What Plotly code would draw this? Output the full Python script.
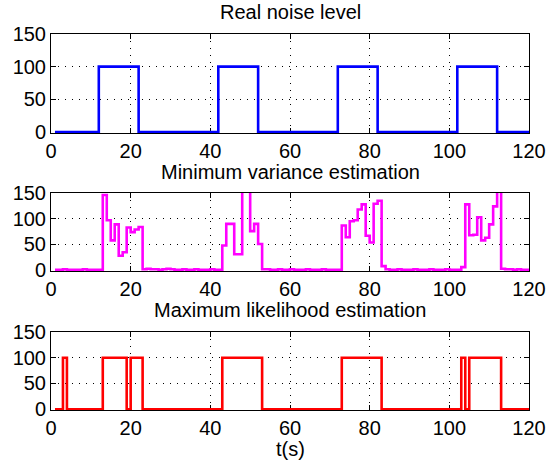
import plotly.graph_objects as go

# ---- data ----
t = list(range(1, 121))

# real noise level: change points (step, held until next point)
real_t = [1, 12, 22, 42, 52, 72, 82, 102, 112, 120]
real_v = [0, 100, 0, 100, 0, 100, 0, 100, 0, 0]

# minimum variance estimation, one sample per second (t = 1..120)
mv = [1, 1, 2, 1, 1, 1, 1, 2, 1, 1, 1, 1,            # 1-12
      146, 97, 58, 89, 28, 35, 83, 74, 79, 84,        # 13-22
      2, 3, 2, 2, 1, 2, 3, 2, 1, 1, 2, 1, 1, 2, 1, 1, 1, 2, 1, 1,  # 23-42
      48, 90, 90, 31, 31, 185, 170, 76, 90, 51,       # 43-52
      2, 2, 1, 1, 2, 1, 1, 2, 1, 1, 1, 2, 1, 1, 1, 2, 1, 1, 1, 1,  # 53-72
      87, 64, 95, 97, 118, 128, 67, 54, 129, 135,     # 73-82
      8, 2, 1, 1, 2, 1, 1, 1, 2, 1, 1, 1, 2, 1, 1, 1, 2, 1, 1, 1,  # 83-102
      6, 128, 68, 69, 103, 58, 63, 89, 124, 180,      # 103-112
      3, 2, 2, 1, 2, 1, 1, 1]                         # 113-120

# maximum likelihood estimation: change points
ml_t = [1, 3, 4, 13, 19, 20, 23, 43, 53, 73, 83, 103, 104, 105, 113, 120]
ml_v = [0, 100, 0, 100, 0, 100, 0, 100, 0, 100, 0, 100, 0, 100, 0, 0]

titles = ["Real noise level", "Minimum variance estimation", "Maximum likelihood estimation"]
x_ticks = [0, 20, 40, 60, 80, 100, 120]
y_ticks = [0, 50, 100, 150]

# ---- figure ----
W, H = 547, 466
ML, MR, MT, MB = 51, 18, 34, 56
ph = H - MT - MB

def frac(px):
    return (H - MB - px) / ph

doms = [(frac(133), frac(34)), (frac(271), frac(193)), (frac(410), frac(332))]
title_px = [12, 172, 310]

fig = go.Figure()
fig.add_trace(go.Scatter(x=real_t, y=real_v, mode="lines",
                         line=dict(color="#0000ff", width=2.6, shape="hv"),
                         xaxis="x", yaxis="y", showlegend=False))
fig.add_trace(go.Scatter(x=t, y=mv, mode="lines",
                         line=dict(color="#ff00ff", width=2.6, shape="hv"),
                         xaxis="x2", yaxis="y2", showlegend=False))
fig.add_trace(go.Scatter(x=ml_t, y=ml_v, mode="lines",
                         line=dict(color="#ff0000", width=2.6, shape="hv"),
                         xaxis="x3", yaxis="y3", showlegend=False))

font = dict(family="Liberation Sans, Arial, sans-serif", size=20, color="black")
common = dict(showgrid=True, gridcolor="#000000", griddash="1px,6px", gridwidth=1,
              showline=True, linecolor="black", linewidth=1, mirror="ticks",
              ticks="inside", ticklen=5, tickcolor="black", zeroline=False,
              tickfont=font, layer="below traces", automargin=False)

layout = dict(width=W, height=H, margin=dict(l=ML, r=MR, t=MT, b=MB, autoexpand=False),
              paper_bgcolor="white", plot_bgcolor="white", showlegend=False)
for i in range(3):
    sfx = "" if i == 0 else str(i + 1)
    layout["xaxis" + sfx] = dict(common, domain=[0, 1], range=[0, 120],
                                 tickvals=x_ticks, anchor="y" + sfx)
    layout["yaxis" + sfx] = dict(common, domain=list(doms[i]), range=[-1.5, 150],
                                 tickvals=y_ticks, anchor="x" + sfx)

ann = []
for i in range(3):
    ann.append(dict(text=titles[i], x=0.5, xref="paper", y=frac(title_px[i]), yref="paper",
                    xanchor="center", yanchor="middle", showarrow=False, font=font))
ann.append(dict(text="t(s)", x=0.5, xref="paper", y=frac(449), yref="paper",
                xanchor="center", yanchor="middle", showarrow=False, font=font))
layout["annotations"] = ann

fig.update_layout(**layout)
fig.write_html("out.html", config={"displayModeBar": False},
               post_script="document.body.style.margin='0';document.body.style.overflow='hidden';")
